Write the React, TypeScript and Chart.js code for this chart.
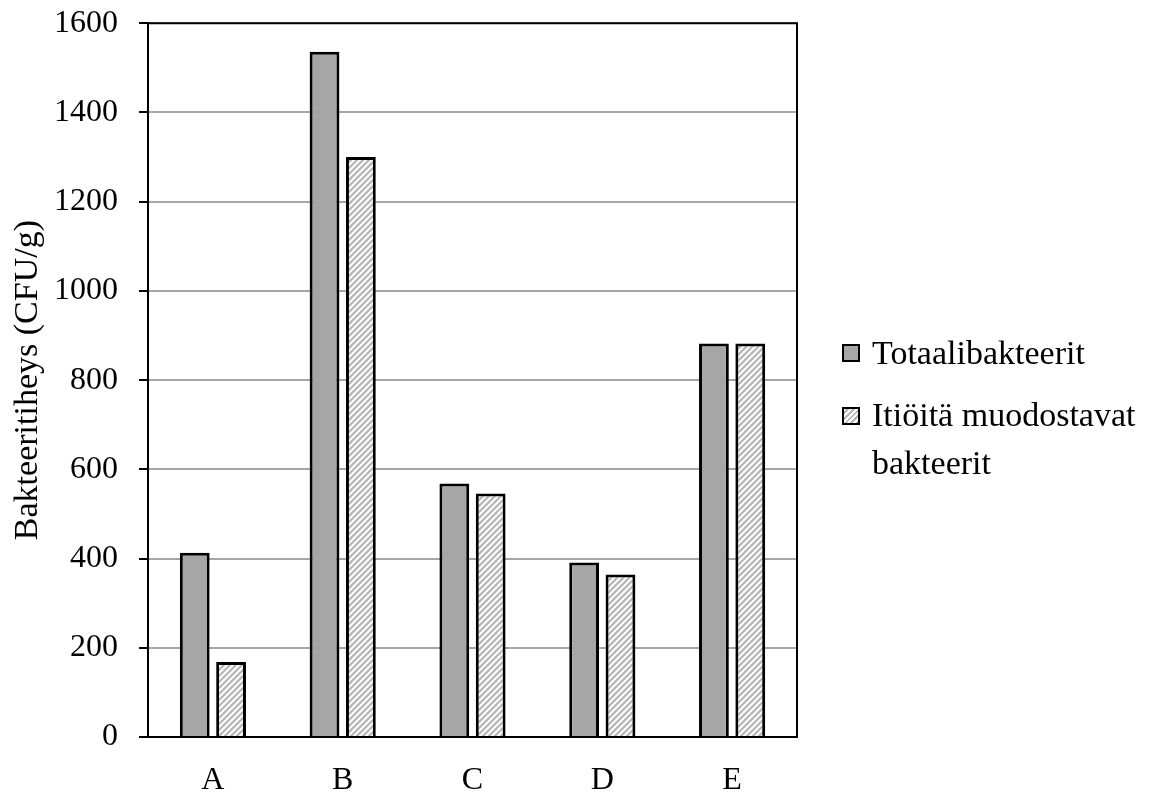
import React, { useEffect, useRef } from "react";
import { Chart, registerables } from "chart.js";

Chart.register(...registerables);

const categories = ["A", "B", "C", "D", "E"];
const totalBacteria = [413, 1536, 568, 391, 882];
const sporeFormers = [168, 1300, 546, 364, 882];
const seriesNames = ["Totaalibakteerit", ["Itiöitä muodostavat", "bakteerit"]];
const yTicks = [0, 200, 400, 600, 800, 1000, 1200, 1400, 1600];

const FONT = "'Liberation Serif', 'Times New Roman', serif";
const GREY = "#a6a6a6";

// Chart.js reserves room above the plot for half of the top tick label,
// so the canvas is lifted by this much to keep the plot top where wanted.
const LIFT = 17;

function makeHatch(): CanvasPattern | string {
  const tile = document.createElement("canvas");
  tile.width = 6;
  tile.height = 6;
  const c = tile.getContext("2d");
  if (!c) return "#d0d0d0";
  c.fillStyle = "#ffffff";
  c.fillRect(0, 0, 6, 6);
  c.strokeStyle = "#b5b5b5";
  c.lineWidth = 2.2;
  c.beginPath();
  c.moveTo(-1, 7);
  c.lineTo(7, -1);
  c.moveTo(-4, 4);
  c.lineTo(4, -4);
  c.moveTo(2, 10);
  c.lineTo(10, 2);
  c.stroke();
  const pat = c.createPattern(tile, "repeat");
  return pat || "#d0d0d0";
}

const frame = {
  id: "plotFrame",
  afterDraw(chart: Chart) {
    const { ctx, chartArea } = chart;
    ctx.save();
    ctx.strokeStyle = "#000";
    ctx.lineWidth = 2;
    ctx.beginPath();
    ctx.moveTo(chartArea.left, chartArea.top);
    ctx.lineTo(chartArea.right, chartArea.top);
    ctx.lineTo(chartArea.right, chartArea.bottom);
    ctx.stroke();
    ctx.restore();
  },
};

function Swatch({ hatch }: { hatch: boolean }) {
  return (
    <div
      style={{
        boxSizing: "border-box",
        width: 18,
        height: 18,
        border: "2px solid #000",
        background: hatch
          ? "repeating-linear-gradient(135deg, #ffffff 0 2px, #b5b5b5 2px 4px)"
          : GREY,
        flex: "0 0 auto",
      }}
    />
  );
}

export default function App() {
  const ref = useRef<HTMLCanvasElement | null>(null);

  useEffect(() => {
    if (!ref.current) return;
    const hatch = makeHatch();
    const chart = new Chart(ref.current, {
      type: "bar",
      data: {
        labels: categories,
        datasets: [
          {
            label: "Totaalibakteerit",
            data: totalBacteria,
            backgroundColor: GREY,
            borderColor: "#000",
            borderWidth: 3,
            categoryPercentage: 0.56,
            barPercentage: 0.82,
          },
          {
            label: "Itiöitä muodostavat bakteerit",
            data: sporeFormers,
            backgroundColor: hatch as any,
            borderColor: "#000",
            borderWidth: 3,
            categoryPercentage: 0.56,
            barPercentage: 0.82,
          },
        ],
      },
      options: {
        animation: false,
        responsive: false,
        maintainAspectRatio: false,
        layout: { padding: { left: 0, top: 6, right: 368, bottom: 0 } },
        plugins: {
          legend: { display: false },
          tooltip: { enabled: false },
        },
        scales: {
          x: {
            grid: { display: false },
            border: { display: true, color: "#000", width: 2 },
            ticks: {
              color: "#000",
              font: { family: FONT, size: 32 },
              padding: 16,
            },
            afterFit(scale: any) {
              scale.height = 59;
            },
          },
          y: {
            min: 0,
            max: 1600,
            afterBuildTicks(scale: any) {
              scale.ticks = yTicks.map((v) => ({ value: v }));
            },
            grid: {
              color: GREY,
              lineWidth: 2,
              tickColor: "#000",
              tickLength: 9,
            },
            border: { display: true, color: "#000", width: 2 },
            ticks: {
              color: "#000",
              font: { family: FONT, size: 32 },
              padding: 21,
              callback: (v: any) => String(v),
            },
            title: {
              display: true,
              text: "Bakteeritiheys (CFU/g)",
              color: "#000",
              font: { family: FONT, size: 34 },
              padding: { top: 8, bottom: 0 },
            },
            afterFit(scale: any) {
              scale.width = 148;
            },
          },
        },
      },
      plugins: [frame],
    });
    return () => chart.destroy();
  }, []);

  const labelStyle: React.CSSProperties = {
    fontFamily: FONT,
    fontSize: 34,
    color: "#000",
    lineHeight: "48px",
  };

  return (
    <div
      style={{
        position: "fixed",
        left: 0,
        top: 0,
        width: 1165,
        height: 796,
        background: "#fff",
        overflow: "hidden",
      }}
    >
      <canvas
        ref={ref}
        width={1165}
        height={796 + LIFT}
        style={{ display: "block", position: "absolute", left: 0, top: -LIFT }}
      />
      <div style={{ position: "absolute", left: 842, top: 329, ...labelStyle }}>
        <div style={{ display: "flex", alignItems: "center", gap: 12 }}>
          <Swatch hatch={false} />
          <span>{seriesNames[0] as string}</span>
        </div>
      </div>
      <div style={{ position: "absolute", left: 842, top: 391, ...labelStyle }}>
        <div style={{ display: "flex", alignItems: "flex-start", gap: 12 }}>
          <div style={{ marginTop: 16 }}>
            <Swatch hatch={true} />
          </div>
          <div>
            {(seriesNames[1] as string[]).map((line) => (
              <div key={line}>{line}</div>
            ))}
          </div>
        </div>
      </div>
    </div>
  );
}
